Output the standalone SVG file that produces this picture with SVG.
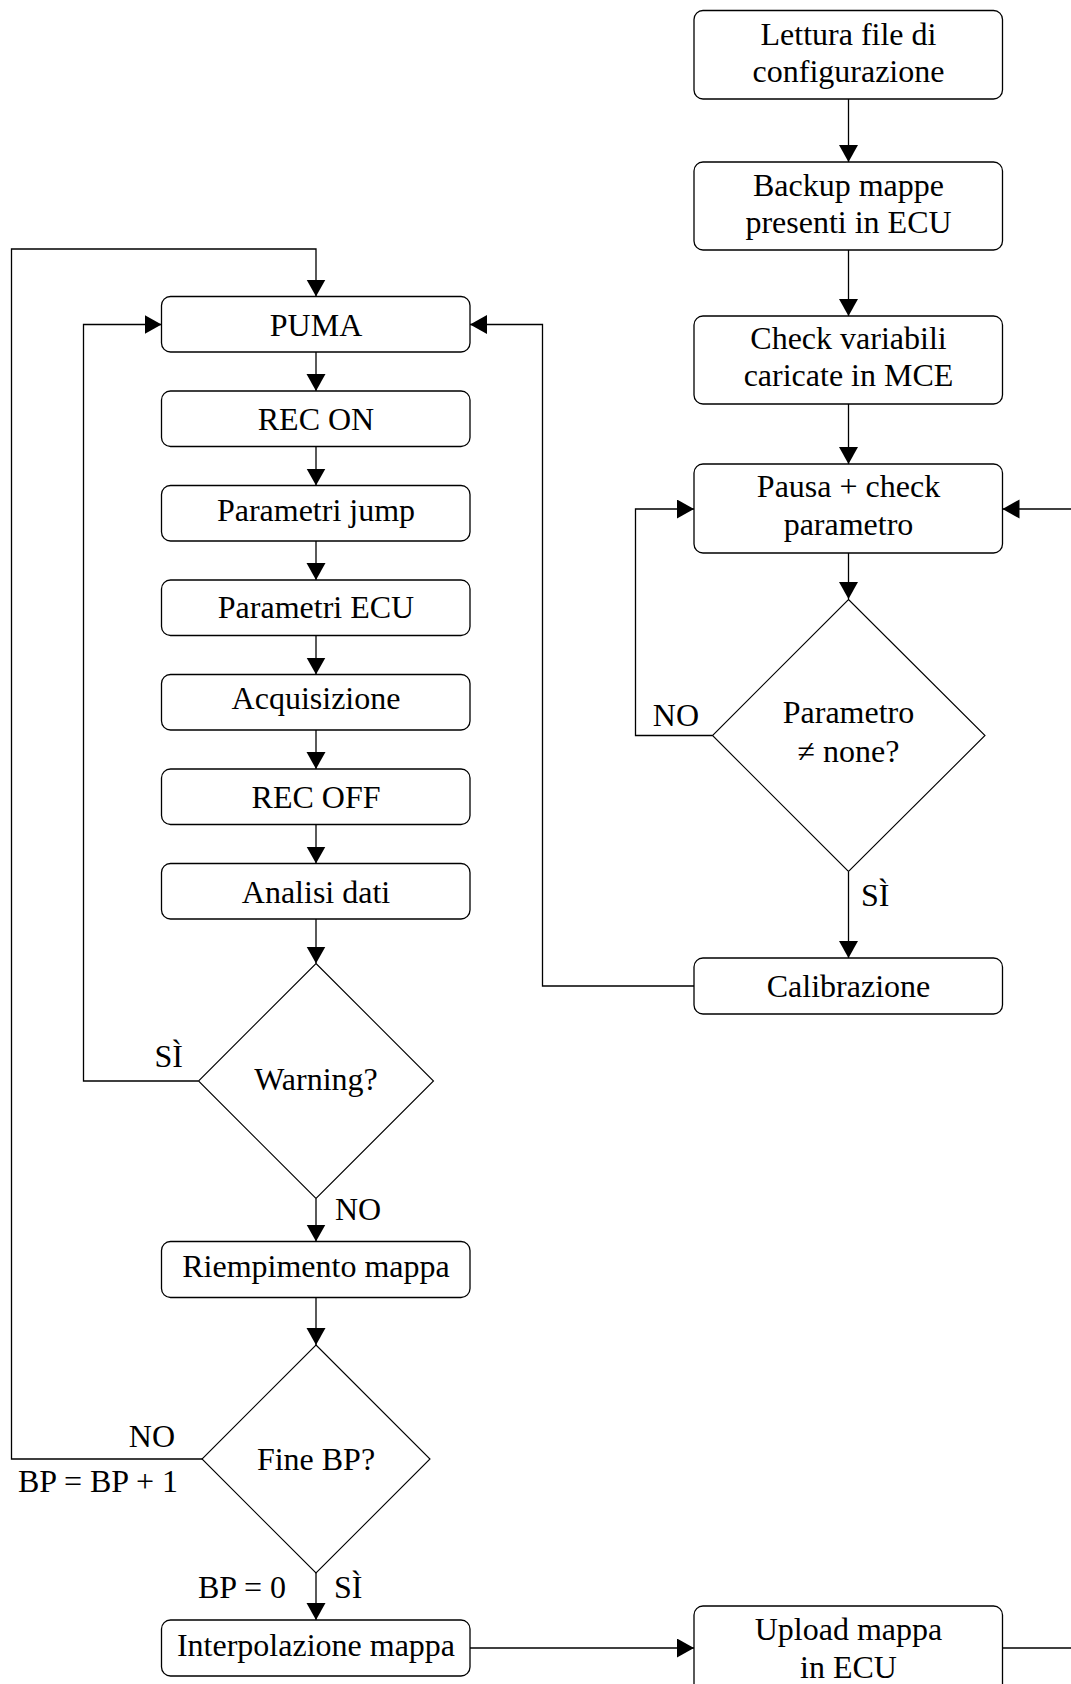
<svg xmlns="http://www.w3.org/2000/svg" width="1071" height="1684" viewBox="0 0 1071 1684">
  <style>
    .box { fill: #ffffff; stroke: #000000; stroke-width: 1.3; }
    .dia { fill: #ffffff; stroke: #000000; stroke-width: 1.1; }
    .t { font-family: "Liberation Serif", "Times New Roman", serif; font-size: 32px; fill: #000000; text-anchor: middle; }
    .lbl { font-family: "Liberation Serif", "Times New Roman", serif; font-size: 32px; fill: #000000; }
    .end { text-anchor: end; }
    .edge { fill: none; stroke: #000000; stroke-width: 1.3; }
    .arr { marker-end: url(#head); }
  </style>
  <defs>
    <marker id="head" markerUnits="userSpaceOnUse" markerWidth="18" markerHeight="20" refX="17" refY="9.5" orient="auto">
      <path d="M0,0 L17,9.5 L0,19 Z" fill="#000000"/>
    </marker>
  </defs>
  <rect width="1071" height="1684" fill="#ffffff"/>

  <!-- connectors -->
  <g id="connectors">
    <!-- right column chain -->
    <line class="edge arr" x1="848.5" y1="99" x2="848.5" y2="162"/>
    <line class="edge arr" x1="848.5" y1="250" x2="848.5" y2="316"/>
    <line class="edge arr" x1="848.5" y1="404" x2="848.5" y2="464"/>
    <line class="edge arr" x1="848.5" y1="553" x2="848.5" y2="599"/>
    <line class="edge arr" x1="848.5" y1="872" x2="848.5" y2="958"/>
    <!-- NO branch back to pause -->
    <polyline class="edge arr" points="712.5,735.5 635.5,735.5 635.5,509 694,509"/>
    <!-- incoming from the right into pause -->
    <line class="edge arr" x1="1071" y1="509" x2="1002.5" y2="509"/>
    <!-- calibration back to PUMA -->
    <polyline class="edge arr" points="694,986 542.5,986 542.5,324.5 470,324.5"/>

    <!-- left column chain -->
    <line class="edge arr" x1="316" y1="352" x2="316" y2="391"/>
    <line class="edge arr" x1="316" y1="446.5" x2="316" y2="485.5"/>
    <line class="edge arr" x1="316" y1="541" x2="316" y2="580"/>
    <line class="edge arr" x1="316" y1="635.5" x2="316" y2="674.5"/>
    <line class="edge arr" x1="316" y1="730" x2="316" y2="769"/>
    <line class="edge arr" x1="316" y1="824.5" x2="316" y2="863.5"/>
    <line class="edge arr" x1="316" y1="919" x2="316" y2="963.5"/>
    <!-- Warning: SI back to PUMA -->
    <polyline class="edge arr" points="198.5,1081 83.5,1081 83.5,324.5 161.5,324.5"/>
    <!-- Warning: NO -->
    <line class="edge arr" x1="316" y1="1198.5" x2="316" y2="1241.5"/>
    <line class="edge arr" x1="316" y1="1297.5" x2="316" y2="1345"/>
    <!-- Fine BP: NO loop to PUMA -->
    <polyline class="edge arr" points="202,1459 11.5,1459 11.5,249 316,249 316,296.5"/>
    <!-- Fine BP: SI -->
    <line class="edge arr" x1="316" y1="1573" x2="316" y2="1620"/>
    <!-- interpolation to upload -->
    <line class="edge arr" x1="470" y1="1648" x2="694" y2="1648"/>
    <line class="edge" x1="1002.5" y1="1648" x2="1071" y2="1648"/>
  </g>

  <!-- right column -->
  <g id="lettura">
    <rect class="box" x="694" y="10.5" width="308.5" height="88.5" rx="9"/>
    <text class="t" x="848.5" y="45">Lettura file di</text>
    <text class="t" x="848.5" y="82">configurazione</text>
  </g>
  <g id="backup">
    <rect class="box" x="694" y="162" width="308.5" height="88" rx="9"/>
    <text class="t" x="848.5" y="196">Backup mappe</text>
    <text class="t" x="848.5" y="233">presenti in ECU</text>
  </g>
  <g id="check">
    <rect class="box" x="694" y="316" width="308.5" height="88" rx="9"/>
    <text class="t" x="848.5" y="349">Check variabili</text>
    <text class="t" x="848.5" y="386">caricate in MCE</text>
  </g>
  <g id="pausa">
    <rect class="box" x="694" y="464" width="308.5" height="89" rx="9"/>
    <text class="t" x="848.5" y="497">Pausa + check</text>
    <text class="t" x="848.5" y="535">parametro</text>
  </g>
  <g id="parametro">
    <polygon class="dia" points="848.5,599.5 985,735.5 848.5,871.5 712.5,735.5"/>
    <text class="t" x="848.5" y="723">Parametro</text>
    <text class="t" x="848.5" y="762">≠ none?</text>
  </g>
  <g id="calibrazione">
    <rect class="box" x="694" y="958" width="308.5" height="56" rx="9"/>
    <text class="t" x="848.5" y="997">Calibrazione</text>
  </g>
  <g id="upload">
    <rect class="box" x="694" y="1606" width="308.5" height="88" rx="9"/>
    <text class="t" x="848.5" y="1640">Upload mappa</text>
    <text class="t" x="848.5" y="1678">in ECU</text>
  </g>

  <!-- left column -->
  <g id="puma">
    <rect class="box" x="161.5" y="296.5" width="308.5" height="55.5" rx="9"/>
    <text class="t" x="316" y="336">PUMA</text>
  </g>
  <g id="rec-on">
    <rect class="box" x="161.5" y="391" width="308.5" height="55.5" rx="9"/>
    <text class="t" x="316" y="430">REC ON</text>
  </g>
  <g id="parametri-jump">
    <rect class="box" x="161.5" y="485.5" width="308.5" height="55.5" rx="9"/>
    <text class="t" x="316" y="521">Parametri jump</text>
  </g>
  <g id="parametri-ecu">
    <rect class="box" x="161.5" y="580" width="308.5" height="55.5" rx="9"/>
    <text class="t" x="316" y="618">Parametri ECU</text>
  </g>
  <g id="acquisizione">
    <rect class="box" x="161.5" y="674.5" width="308.5" height="55.5" rx="9"/>
    <text class="t" x="316" y="709">Acquisizione</text>
  </g>
  <g id="rec-off">
    <rect class="box" x="161.5" y="769" width="308.5" height="55.5" rx="9"/>
    <text class="t" x="316" y="808">REC OFF</text>
  </g>
  <g id="analisi">
    <rect class="box" x="161.5" y="863.5" width="308.5" height="55.5" rx="9"/>
    <text class="t" x="316" y="902.5">Analisi dati</text>
  </g>
  <g id="warning">
    <polygon class="dia" points="316,963.5 433.5,1081 316,1198.5 198.5,1081"/>
    <text class="t" x="316" y="1090">Warning?</text>
  </g>
  <g id="riempimento">
    <rect class="box" x="161.5" y="1241.5" width="308.5" height="56" rx="9"/>
    <text class="t" x="316" y="1277">Riempimento mappa</text>
  </g>
  <g id="fine-bp">
    <polygon class="dia" points="316,1345 430,1459 316,1573 202,1459"/>
    <text class="t" x="316" y="1470">Fine BP?</text>
  </g>
  <g id="interpolazione">
    <rect class="box" x="161.5" y="1620" width="308.5" height="56" rx="9"/>
    <text class="t" x="316" y="1656">Interpolazione mappa</text>
  </g>

  <!-- branch labels -->
  <g id="labels">
    <text class="lbl end" x="699" y="726">NO</text>
    <text class="lbl" x="861" y="906">SÌ</text>
    <text class="lbl end" x="183" y="1067">SÌ</text>
    <text class="lbl" x="335" y="1220">NO</text>
    <text class="lbl end" x="175" y="1447">NO</text>
    <text class="lbl end" x="178" y="1492">BP = BP + 1</text>
    <text class="lbl end" x="286" y="1598">BP = 0</text>
    <text class="lbl" x="334" y="1598">SÌ</text>
  </g>
</svg>
